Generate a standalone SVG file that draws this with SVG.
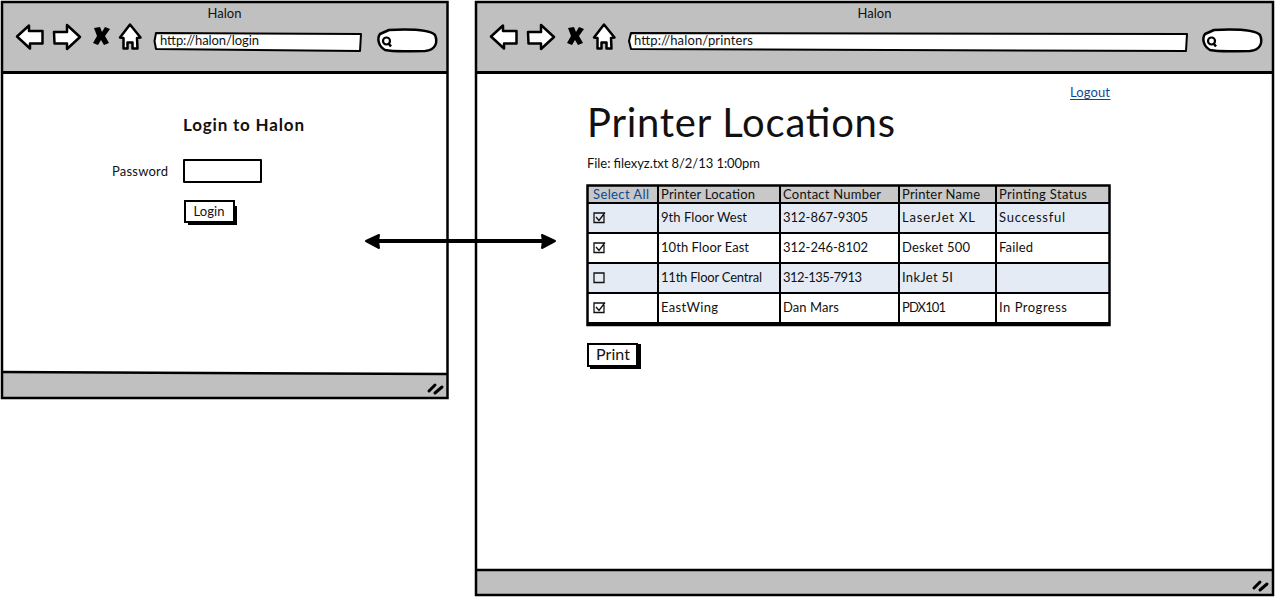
<svg xmlns="http://www.w3.org/2000/svg" width="1275" height="597" viewBox="0 0 1275 597">
<style>
text{font-family:"Lato","Liberation Sans",sans-serif;fill:#111}
.w{fill:#fff}
.g{fill:#c0c0c0}
.b{stroke:#000;stroke-width:2.500;fill:#fff;stroke-linejoin:round}
.u{stroke:#000;stroke-width:2;fill:#fff;stroke-linejoin:round}
.t{font-size:13px}
.l{fill:#0b4a94}
.gl{stroke:#000;stroke-width:2;fill:none}
</style>
<defs>
<g id="icons">
<path class="b" d="M17 36.500L29 25.500V31H42.500V43.500H30V48.500Z"/>
<path class="b" d="M54 32H67V25L80 37L67 49V43.500H54.500Z"/>
<path d="M94 28L100 27L102 32L105 27L110 29L105 36L109 43L104 45L101 40L98 45L93 43L97 36Z" fill="#000"/>
<path class="b" d="M130 24.500L140.500 37.500L137 38L137.500 48.500H132.500V42.500H127.500V48.500H123.500V38L120 37.500Z"/>
</g>
<g id="search">
<circle cx="386.500" cy="41" r="3.500" fill="none" stroke="#000" stroke-width="2.200"/>
<path d="M389 44L391 46.500" stroke="#000" stroke-width="2.500"/>
</g>
<g id="grip"><path d="M429 391L435 385M435 393L442 387" stroke="#000" stroke-width="3" stroke-linecap="round"/></g>
<path id="check" d="M594 213H604V222.500H594ZM596 217L599 220.500L605 212.500" fill="none" stroke="#111" stroke-width="1.300"/>
</defs>

<g id="login-window">
<path class="w" d="M2 2H447.500V398H2Z"/>
<path class="g" d="M2 2H447.500V72H2Z"/>
<path class="g" d="M2 371L447.500 374V398H2Z"/>
<path d="M2 2H447.500V398H2Z" fill="none" stroke="#000" stroke-width="2.500"/>
<path d="M2 372L447.500 374" stroke="#000" stroke-width="2.500" fill="none"/>
<path d="M2 72.500H447" stroke="#000" stroke-width="3"/>
<text x="224.500" y="18" text-anchor="middle" class="t">Halon</text>
<use href="#icons"/>
<path class="u" d="M156 33L361 34L360 51L156 49L154.500 41Z"/>
<text x="160" y="45" class="t" textLength="99">http://halon/login</text>
<path class="b" d="M389 30C410 29 430 30 435 35C438 42 436 50 425 51C405 51 395 52 385 50C378 46 377 38 380 34Z"/>
<use href="#search"/>
<use href="#grip"/>
<text x="183" y="131" font-size="17" font-weight="700" textLength="121">Login to Halon</text>
<text x="112" y="176" class="t" textLength="56">Password</text>
<path class="u" d="M184 160H261V182H184Z"/>
<path d="M188 225H237V206H233V222H188Z" fill="#000"/>
<path d="M185 201H234V222H185Z" fill="#fff" stroke="#000" stroke-width="2"/>
<text x="193.500" y="216" class="t" textLength="31">Login</text>
</g>

<g id="printers-window">
<path class="w" d="M476 2H1273V595H476Z"/>
<path class="g" d="M476 2H1273V72H476Z"/>
<path class="g" d="M476 570H1273V595H476Z"/>
<path d="M476 2H1273V595H476Z" fill="none" stroke="#000" stroke-width="2.500"/>
<path d="M476 72.500H1273" stroke="#000" stroke-width="3"/>
<path d="M476 570H1273" stroke="#000" stroke-width="2.500"/>
<text x="874.500" y="18" text-anchor="middle" class="t">Halon</text>
<use href="#icons" transform="translate(474 0)"/>
<path class="u" d="M631 33L1187 34L1186 51L631 49L629 41Z"/>
<text x="634" y="45" class="t" textLength="119">http://halon/printers</text>
<path class="b" d="M1214 30C1235 29 1255 30 1260 35C1263 42 1261 50 1250 51C1230 51 1220 52 1210 50C1203 46 1202 38 1205 34Z"/>
<use href="#search" transform="translate(825 0)"/>
<use href="#grip" transform="translate(825 197)"/>
<text x="1070" y="97" class="t l" textLength="40">Logout</text>
<path d="M1070 99.500H1110.500" stroke="#0b4a94" stroke-width="1"/>
<text x="587" y="137" font-size="40" textLength="308">Printer Locations</text>
<text x="587" y="168" class="t" textLength="173">File: filexyz.txt 8/2/13 1:00pm</text>
</g>

<g id="printer-table">
<path d="M588 186H1109V203H588Z" fill="#c8c8c8"/>
<path d="M588 203H1109V233H588ZM588 263H1109V293H588Z" fill="#e4ebf5"/>
<path d="M588 233H1109V263H588ZM588 293H1109V324H588Z" fill="#fff"/>
<path d="M587.500 185.500H1109.500V325H587.500Z" fill="none" stroke="#000" stroke-width="2.500"/>
<path class="gl" d="M658 186V325M780 186V325M899 186V325M996 186V325M588 203H1109M588 233H1109M588 263H1109M588 293H1109M588 323H1109"/>
<text x="593" y="199" class="t l" textLength="56">Select All</text>
<text x="661" y="199" class="t" textLength="94">Printer Location</text>
<text x="783" y="199" class="t" textLength="98">Contact Number</text>
<text x="902" y="199" class="t" textLength="78">Printer Name</text>
<text x="999" y="199" class="t" textLength="88">Printing Status</text>
<use href="#check"/>
<text x="661" y="222" class="t" textLength="86">9th Floor West</text>
<text x="783" y="222" class="t" textLength="85">312-867-9305</text>
<text x="902" y="222" class="t" textLength="73">LaserJet XL</text>
<text x="999" y="222" class="t" textLength="66">Successful</text>
<use href="#check" y="30"/>
<text x="661" y="252" class="t" textLength="88">10th Floor East</text>
<text x="783" y="252" class="t" textLength="85">312-246-8102</text>
<text x="902" y="252" class="t" textLength="68">Desket 500</text>
<text x="999" y="252" class="t" textLength="34">Failed</text>
<path d="M594 273H604V282.500H594Z" fill="none" stroke="#111" stroke-width="1.300"/>
<text x="661" y="282" class="t" textLength="101">11th Floor Central</text>
<text x="783" y="282" class="t" textLength="79">312-135-7913</text>
<text x="902" y="282" class="t" textLength="51">InkJet 5I</text>
<use href="#check" y="90"/>
<text x="661" y="312" class="t" textLength="57">EastWing</text>
<text x="783" y="312" class="t" textLength="56">Dan Mars</text>
<text x="902" y="312" class="t" textLength="44">PDX101</text>
<text x="999" y="312" class="t" textLength="68">In Progress</text>
</g>

<g id="print-button">
<path d="M590 369H641V344H637V366H590Z" fill="#000"/>
<path d="M588 344H637V366H588Z" fill="#fff" stroke="#000" stroke-width="2"/>
<text x="596" y="360" font-size="16" textLength="34">Print</text>
</g>

<g id="connectors">
<path d="M375 241H546" stroke="#000" stroke-width="4"/>
<path d="M366 241L379 235L378 241L379 248Z" fill="#000" stroke="#000" stroke-width="2" stroke-linejoin="round"/>
<path d="M555 241L542 235L543 241L542 248Z" fill="#000" stroke="#000" stroke-width="2" stroke-linejoin="round"/>
</g>
</svg>
